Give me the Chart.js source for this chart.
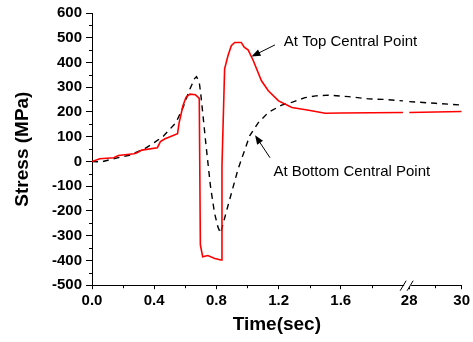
<!DOCTYPE html>
<html>
<head>
<meta charset="utf-8">
<script src="https://cdn.jsdelivr.net/npm/chart.js@4.4.0/dist/chart.umd.min.js"></script>
<style>
  html, body { margin: 0; padding: 0; background: #fff; }
</style>
</head>
<body>
<canvas id="stressChart" width="473" height="342"></canvas>
<script>
// stress (MPa) against time (sec)
const topTime = [0, 0.05, 0.14, 0.17, 0.27, 0.29, 0.32, 0.42, 0.44, 0.47, 0.55, 0.56, 0.585, 0.605, 0.63, 0.665, 0.69,
    0.697, 0.712, 0.745, 0.79, 0.83, 0.836, 0.853, 0.875, 0.896, 0.918, 0.96, 0.979, 1.005, 1.037, 1.09, 1.134, 1.2,
    1.286, 1.394, 1.5, 1.6, 2.0];
const topStress = [0, 11, 15, 24, 31, 35, 46, 55, 80, 92, 112, 155, 225, 260, 272, 270, 255,
    -337, -385, -380, -392, -398, -19, 374, 428, 468, 481, 481, 462, 450, 408, 326, 286, 245,
    218, 207, 195, 196, 198];

const bottomTime = [0, 0.06, 0.13, 0.24, 0.34, 0.40, 0.46, 0.54, 0.59, 0.625, 0.66, 0.672, 0.69, 0.70, 0.712, 0.734,
    0.762, 0.788, 0.81, 0.827, 0.874, 0.94, 1.015, 1.07, 1.134, 1.22, 1.29, 1.37, 1.44, 1.52, 1.65, 1.78, 1.87, 2.0];
const bottomStress = [0, -2, 10, 25, 52, 76, 103, 157, 225, 286, 335, 343, 320, 270, 198, 62,
    -100, -208, -265, -290, -180, -30, 105, 157, 198, 228, 240, 258, 265, 268, 262, 253, 251, 245];

// after the axis break
const topTimeLate = [28, 30];
const topStressLate = [198, 202];
const bottomTimeLate = [28, 29, 30];
const bottomStressLate = [242, 235, 228];

const stressTicks = [-500, -400, -300, -200, -100, 0, 100, 200, 300, 400, 500, 600];
const stressMinor = [-450, -350, -250, -150, -50, 50, 150, 250, 350, 450, 550];
const earlyTicks = [0, 0.4, 0.8, 1.2, 1.6];
const earlyMinor = [0.2, 0.6, 1.0, 1.4, 1.8];
const lateTicks = [28, 30];
const lateMinor = [29];

// callouts, placed in data units
const notes = [
    { text: "At Top Central Point", t: 1.234, s: 483, fromT: 1.177, fromS: 471, toT: 1.026, toS: 424 },
    { text: "At Bottom Central Point", t: 1.167, s: -41, fromT: 1.145, fromS: 15, toT: 1.049, toS: 106 }
];

const FONT = "'Liberation Sans', Arial, sans-serif";

function toPoints(xs, ys) {
    return xs.map((x, i) => ({ x: x, y: ys[i] }));
}

const extras = {
    id: "extras",
    afterDraw(chart) {
        const ctx = chart.ctx;
        const y = chart.scales.y;
        const x1 = chart.scales.x;
        const x2 = chart.scales.x2;

        ctx.save();
        ctx.strokeStyle = "#000";
        ctx.lineWidth = 1;

        // minor ticks
        ctx.beginPath();
        stressMinor.forEach(v => {
            const py = Math.round(y.getPixelForValue(v)) + 0.5;
            ctx.moveTo(y.right - 3, py);
            ctx.lineTo(y.right, py);
        });
        earlyMinor.forEach(v => {
            const px = Math.round(x1.getPixelForValue(v)) + 0.5;
            ctx.moveTo(px, x1.top);
            ctx.lineTo(px, x1.top + 3);
        });
        lateMinor.forEach(v => {
            const px = Math.round(x2.getPixelForValue(v)) + 0.5;
            ctx.moveTo(px, x2.top);
            ctx.lineTo(px, x2.top + 3);
        });
        ctx.stroke();

        // axis break //
        const bx = x2.left - 2;
        const by = x1.top + 0.5;
        ctx.fillStyle = "#fff";
        ctx.fillRect(bx - 3, by - 1.5, 7, 3);
        ctx.beginPath();
        ctx.moveTo(bx - 7, by + 5);
        ctx.lineTo(bx - 1, by - 5);
        ctx.moveTo(bx, by + 5);
        ctx.lineTo(bx + 6, by - 5);
        ctx.stroke();

        // callouts
        ctx.fillStyle = "#000";
        ctx.font = "15px " + FONT;
        ctx.textAlign = "left";
        ctx.textBaseline = "middle";
        notes.forEach(n => {
            ctx.fillText(n.text, x1.getPixelForValue(n.t), y.getPixelForValue(n.s));

            const fx = x1.getPixelForValue(n.fromT);
            const fy = y.getPixelForValue(n.fromS);
            const tx = x1.getPixelForValue(n.toT);
            const ty = y.getPixelForValue(n.toS);
            const ang = Math.atan2(ty - fy, tx - fx);
            ctx.beginPath();
            ctx.moveTo(fx, fy);
            ctx.lineTo(tx - 8 * Math.cos(ang), ty - 8 * Math.sin(ang));
            ctx.stroke();
            ctx.beginPath();
            ctx.moveTo(tx, ty);
            ctx.lineTo(tx - 9 * Math.cos(ang) + 3.5 * Math.sin(ang), ty - 9 * Math.sin(ang) - 3.5 * Math.cos(ang));
            ctx.lineTo(tx - 9 * Math.cos(ang) - 3.5 * Math.sin(ang), ty - 9 * Math.sin(ang) + 3.5 * Math.cos(ang));
            ctx.closePath();
            ctx.fill();
        });

        ctx.restore();
    }
};

const tickFont = { family: FONT, size: 15, weight: "bold" };

const timeAxis = (lo, hi, weight, ticks, fmt) => ({
    type: "linear",
    position: "bottom",
    stack: "time",
    stackWeight: weight,
    min: lo,
    max: hi,
    afterBuildTicks: scale => {
        scale.ticks = ticks.map(v => ({ value: v }));
    },
    afterFit: scale => {
        scale.height = 28;
    },
    grid: { drawOnChartArea: false, drawTicks: true, tickLength: 4, color: "#000" },
    border: { display: true, color: "#000", width: 1 },
    ticks: {
        color: "#000",
        font: tickFont,
        padding: 3,
        autoSkip: false,
        maxRotation: 0,
        callback: fmt
    }
});

const ctx = document.getElementById("stressChart").getContext("2d");

new Chart(ctx, {
    type: "line",
    data: {
        datasets: [
            {
                label: "At Top Central Point",
                data: toPoints(topTime, topStress),
                xAxisID: "x",
                borderColor: "#ff0000",
                borderWidth: 1.6
            },
            {
                label: "At Top Central Point (late)",
                data: toPoints(topTimeLate, topStressLate),
                xAxisID: "x2",
                borderColor: "#ff0000",
                borderWidth: 1.6
            },
            {
                label: "At Bottom Central Point",
                data: toPoints(bottomTime, bottomStress),
                xAxisID: "x",
                borderColor: "#000",
                borderWidth: 1.4,
                borderDash: [6, 5]
            },
            {
                label: "At Bottom Central Point (late)",
                data: toPoints(bottomTimeLate, bottomStressLate),
                xAxisID: "x2",
                borderColor: "#000",
                borderWidth: 1.4,
                borderDash: [6, 5]
            }
        ]
    },
    options: {
        responsive: false,
        animation: false,
        layout: { padding: { left: 0, right: 5, top: 5, bottom: 6 } },
        elements: {
            point: { radius: 0 },
            line: { tension: 0, fill: false }
        },
        plugins: {
            legend: { display: false },
            tooltip: { enabled: false },
            title: {
                display: true,
                text: "Time(sec)",
                position: "bottom",
                fullSize: false,
                color: "#000",
                font: { family: FONT, size: 19, weight: "bold" },
                padding: 0
            }
        },
        scales: {
            x: timeAxis(0, 2.04, 6.04, earlyTicks, v => v.toFixed(1)),
            x2: timeAxis(28, 30, 1, lateTicks, v => String(v)),
            y: {
                type: "linear",
                min: -500,
                max: 600,
                afterBuildTicks: scale => {
                    scale.ticks = stressTicks.map(v => ({ value: v }));
                },
                afterFit: scale => {
                    scale.width = 92;
                },
                grid: { drawOnChartArea: false, drawTicks: true, tickLength: 6, color: "#000" },
                border: { display: true, color: "#000", width: 1 },
                ticks: { color: "#000", font: tickFont, padding: 4 },
                title: {
                    display: true,
                    text: "Stress (MPa)",
                    color: "#000",
                    font: { family: FONT, size: 19, weight: "bold" },
                    padding: { top: 11, bottom: 0 }
                }
            }
        }
    },
    plugins: [extras]
});
</script>
</body>
</html>
